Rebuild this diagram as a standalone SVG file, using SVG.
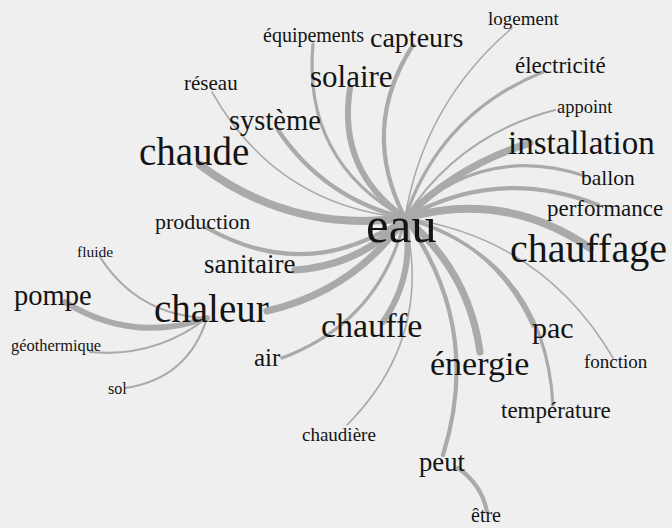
<svg xmlns="http://www.w3.org/2000/svg" width="672" height="528" viewBox="0 0 672 528">
<style>
.bg{fill:#efefef}
.e{fill:none;stroke:#aaaaaa;stroke-linecap:round}
.t1{stroke-width:1.6}
.t2{stroke-width:2.2}
.t3{stroke-width:3.2}
.t4{stroke-width:4.2}
.t6{stroke-width:6}
.t7{stroke-width:7.2}
.t8{stroke-width:8}
text{font-family:"Liberation Serif","Times New Roman",serif;fill:#141414}
</style>
<rect class="bg" x="0" y="0" width="672" height="528"/>
<g id="connectors">
<path class="e t3" d="M405,218 Q302.5,161 313,44"/>
<path class="e t4" d="M405,218 Q359,129 413,45"/>
<path class="e t6" d="M405,218 Q337,170 350,88"/>
<path class="e t1" d="M405,218 Q275.7,205 212,92"/>
<path class="e t4" d="M405,218 Q324.4,198.7 278,130"/>
<path class="e t8" d="M405,218 Q291.5,234 200,165"/>
<path class="e t4" d="M405,218 Q309,285 207,228"/>
<path class="e t7" d="M405,218 Q360,265.7 295,270"/>
<path class="e t7" d="M405,218 Q354,291 267,311"/>
<path class="e t3" d="M405,218 Q381,321 282,358"/>
<path class="e t6" d="M405,218 Q415.6,274.6 383,322"/>
<path class="e t1" d="M405,218 Q433.8,337.7 347,425"/>
<path class="e t7" d="M405,218 Q468.7,270.4 480,352"/>
<path class="e t4" d="M405,218 Q483,327 443,455"/>
<path class="e t3" d="M405,218 Q494.8,241.4 533,326"/>
<path class="e t3" d="M405,218 Q544.9,259.4 553,405"/>
<path class="e t1" d="M405,218 Q542.5,238 613,358"/>
<path class="e t8" d="M405,218 Q504.5,189.5 590,248"/>
<path class="e t4" d="M405,218 Q498.4,165.6 598,205"/>
<path class="e t3" d="M405,218 Q482.3,142.5 585,176"/>
<path class="e t7" d="M405,218 Q458.2,165 530,143"/>
<path class="e t2" d="M405,218 Q459,134.8 555,110"/>
<path class="e t3" d="M405,218 Q440.6,113.4 543,72"/>
<path class="e t1" d="M405,218 Q423.6,103.4 512,28"/>
<path class="e t4" d="M458,468 Q482,485 487,512"/>
<path class="e t6" d="M207,318 Q132,343.8 65,302"/>
<path class="e t2" d="M207,318 Q137.6,315.3 100,257"/>
<path class="e t2" d="M207,318 Q155,358 90,352"/>
<path class="e t2" d="M207,318 Q188,379 125,388"/>
</g>
<g id="n-equipements"><text x="263" y="42" font-size="20">équipements</text></g>
<g id="n-capteurs"><text x="370" y="47" font-size="28">capteurs</text></g>
<g id="n-logement"><text x="488" y="25" font-size="19">logement</text></g>
<g id="n-electricite"><text x="515" y="73" font-size="23">électricité</text></g>
<g id="n-appoint"><text x="557" y="113" font-size="18.5">appoint</text></g>
<g id="n-installation"><text x="508" y="154" font-size="33">installation</text></g>
<g id="n-ballon"><text x="581" y="185" font-size="21.5">ballon</text></g>
<g id="n-performance"><text x="547" y="216" font-size="23">performance</text></g>
<g id="n-chauffage"><text x="510" y="262" font-size="40">chauffage</text></g>
<g id="n-eau"><text x="366" y="242" font-size="51">eau</text></g>
<g id="n-reseau"><text x="184" y="90" font-size="21">réseau</text></g>
<g id="n-solaire"><text x="310" y="87" font-size="31">solaire</text></g>
<g id="n-systeme"><text x="229" y="130" font-size="28.5">système</text></g>
<g id="n-chaude"><text x="139" y="165" font-size="39">chaude</text></g>
<g id="n-production"><text x="155" y="229" font-size="22">production</text></g>
<g id="n-fluide"><text x="77" y="257" font-size="15.5">fluide</text></g>
<g id="n-sanitaire"><text x="204" y="273" font-size="27">sanitaire</text></g>
<g id="n-pompe"><text x="14" y="305" font-size="28.5">pompe</text></g>
<g id="n-chaleur"><text x="154" y="322" font-size="39">chaleur</text></g>
<g id="n-geothermique"><text x="11" y="351" font-size="16.4">géothermique</text></g>
<g id="n-sol"><text x="108" y="394" font-size="16">sol</text></g>
<g id="n-air"><text x="254" y="366" font-size="25">air</text></g>
<g id="n-chauffe"><text x="321" y="337" font-size="34">chauffe</text></g>
<g id="n-energie"><text x="430" y="375" font-size="34">énergie</text></g>
<g id="n-pac"><text x="532" y="338" font-size="30">pac</text></g>
<g id="n-fonction"><text x="584" y="368" font-size="19">fonction</text></g>
<g id="n-temperature"><text x="501" y="418" font-size="23">température</text></g>
<g id="n-chaudiere"><text x="302" y="441" font-size="19">chaudière</text></g>
<g id="n-peut"><text x="419" y="471" font-size="26.7">peut</text></g>
<g id="n-etre"><text x="471" y="522" font-size="20">être</text></g>
</svg>
